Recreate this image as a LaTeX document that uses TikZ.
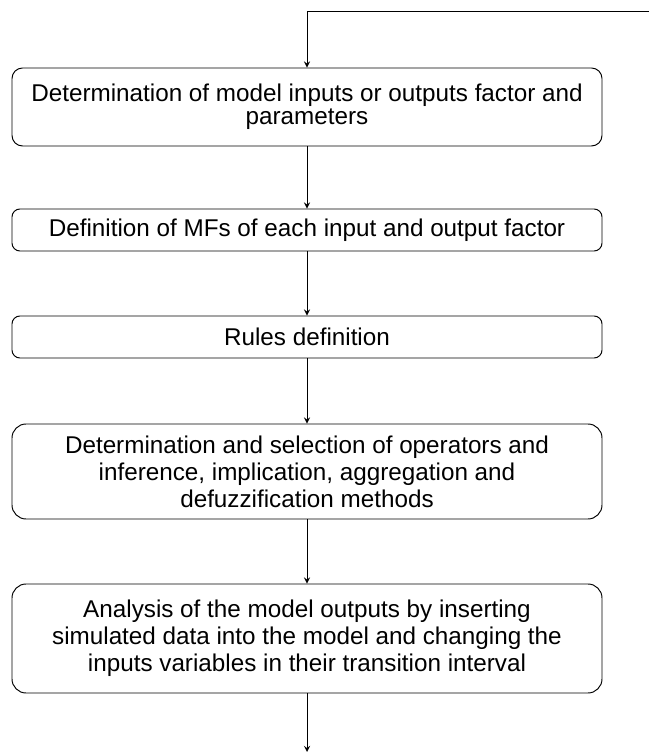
\documentclass[tikz,border=0pt]{standalone}
\usepackage{fontspec}
\setmainfont{Liberation Sans}
\usetikzlibrary{arrows,positioning}

\begin{document}
\begin{tikzpicture}
\tikzset{stage/.style={draw,rounded corners=6pt,minimum width=11.8cm,align=center,line width=0.55pt,inner sep=2pt,font=\fontsize{13.8}{15.3}\selectfont}}
\useasboundingbox (0,0) rectangle (12.98,15.06);

\node[stage,minimum height=1.56cm,font=\fontsize{13.8}{13.1}\selectfont] at (6.14,12.92) (inputs){Determination of model inputs or outputs factor and\\parameters};
\node[stage,minimum height=0.84cm,rounded corners=4.5pt] at (6.14,10.46) (mfs){Definition of MFs of each input and output factor};
\node[stage,minimum height=0.84cm,rounded corners=4.5pt] at (6.14,8.32) (rules){Rules definition};
\node[stage,minimum height=1.9cm,rounded corners=8pt] at (6.14,5.63) (methods){Determination and selection of operators and\\inference, implication, aggregation and\\defuzzification methods};
\node[stage,minimum height=2.18cm,rounded corners=8pt] at (6.14,2.29) (analysis){Analysis of the model outputs by inserting\\simulated data into the model and changing the\\inputs variables in their transition interval};

\coordinate (feedback) at (12.98,14.84);
\coordinate (corner) at (6.14,14.84);
\coordinate (out) at (6.14,0.02);

\draw[-stealth,line width=0.55pt] (feedback) -- (corner) -- (inputs);
\path[-stealth,line width=0.55pt]
  (inputs) edge (mfs)
  (mfs) edge (rules)
  (rules) edge (methods)
  (methods) edge (analysis)
  (analysis) edge (out);

\end{tikzpicture}
\end{document}
